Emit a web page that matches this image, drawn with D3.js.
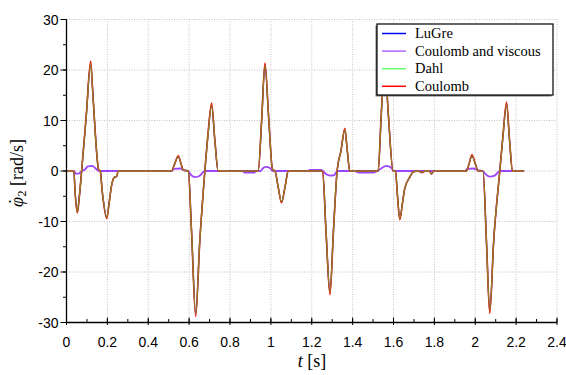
<!DOCTYPE html>
<html>
<head>
<meta charset="utf-8">
<script src="https://cdn.jsdelivr.net/npm/d3@7"></script>
<style>
  body { margin: 0; background: #fff; }
  svg { display: block; }
</style>
</head>
<body>
<div id="chart"></div>
<script>
// time samples of the spiky responses (LuGre / Dahl / Coulomb share them)
const tMain = [0, 0.036, 0.042, 0.053, 0.063, 0.074, 0.097, 0.118, 0.128, 0.14, 0.157, 0.165, 0.175, 0.197, 0.208, 0.22, 0.235, 0.245, 0.253,
  0.514, 0.53, 0.547, 0.56, 0.571, 0.596, 0.612, 0.632, 0.652, 0.677, 0.692, 0.71, 0.726, 0.742,
  0.938, 0.955, 0.971, 0.99, 1.008, 1.02, 1.035, 1.052, 1.07, 1.085,
  1.253, 1.27, 1.289, 1.306, 1.324, 1.343, 1.362, 1.374, 1.386,
  1.525, 1.54, 1.557, 1.575, 1.598, 1.61, 1.618, 1.631, 1.645, 1.655, 1.68, 1.696, 1.72, 1.74, 1.755, 1.775, 1.786, 1.797,
  1.957, 1.97, 1.984, 2.0, 2.014, 2.038, 2.055, 2.071, 2.09, 2.12, 2.136, 2.153, 2.168, 2.182, 2.239];

const luGre = [0, 0, -4, -8.1, -5, 0, 11, 21.3, 16, 8, 0.3, 0, -4, -9.2, -6.5, -3, -1.2, -1.1, 0,
  0, 1.5, 2.9, 1.5, 0.2, 0, -12, -28.4, -14, 0, 7, 13.1, 6, 0,
  0, 10, 21.0, 10, 0.3, 0, -3, -6.1, -3, 0,
  0, -12, -24.1, -12, 0, 4, 8.2, 4, 0,
  0, 11, 21.3, 11, 0, 0, -4, -9.4, -6, -3.5, -1.2, -0.2, 0, -0.3, 0, 0, -0.6, 0,
  0, 1.5, 3.0, 1.5, 0, 0, -14, -27.8, -14, 0, 7, 13.3, 6, 0, 0];

const dahl = luGre.slice();

const coulomb = [0, 0, -4.2, -8.3, -5, 0, 11.2, 21.7, 16, 8, 0.3, 0, -4.2, -9.4, -6.5, -3, -1.2, -1.1, 0,
  0, 1.5, 3.0, 1.5, 0.2, 0, -12.2, -28.8, -14, 0, 7.2, 13.4, 6, 0,
  0, 10.2, 21.4, 10, 0.3, 0, -3, -6.3, -3, 0,
  0, -12.2, -24.5, -12, 0, 4, 8.4, 4, 0,
  0, 11.2, 21.6, 11, 0, 0, -4.2, -9.6, -6, -3.5, -1.2, -0.2, 0, -0.3, 0, 0, -0.6, 0,
  0, 1.5, 3.2, 1.5, 0, 0, -14.2, -28.2, -14, 0, 7.2, 13.6, 6, 0, 0];

// Coulomb and viscous model (small amplitude)
const tCV = [0, 0.036, 0.045, 0.06, 0.075, 0.09, 0.105, 0.125, 0.14, 0.16,
  0.514, 0.525, 0.56, 0.575, 0.595, 0.61, 0.63, 0.65, 0.677,
  0.86, 0.87, 0.92, 0.93, 0.95, 0.96, 0.975, 0.995, 1.01,
  1.18, 1.19, 1.245, 1.255, 1.27, 1.29, 1.31, 1.325,
  1.41, 1.43, 1.5, 1.52, 1.54, 1.565, 1.59, 1.6,
  1.95, 1.96, 1.99, 2.01, 2.035, 2.05, 2.07, 2.095, 2.12, 2.239];
const coulombViscous = [0, 0, -0.5, -0.5, 0, 0.3, 0.9, 1.0, 0.6, 0,
  0, 0.4, 0.5, 0.1, 0, -0.8, -1.2, -1.0, 0,
  0, -0.3, -0.3, 0, 0, 0.5, 0.8, 0.6, 0,
  0, 0.2, 0.2, 0, -0.6, -0.9, -0.8, 0,
  0, -0.3, -0.3, 0, 0.5, 1.0, 0.6, 0,
  0, 0.4, 0.5, 0.2, 0, -0.6, -1.1, -0.9, 0, 0];

const xTicks = [0, 0.2, 0.4, 0.6, 0.8, 1, 1.2, 1.4, 1.6, 1.8, 2, 2.2, 2.4];
const yTicks = [-30, -20, -10, 0, 10, 20, 30];
const legendNames = ['LuGre', 'Coulomb and viscous', 'Dahl', 'Coulomb'];
const legendColors = ['#0000ff', '#b266ff', '#66ff66', '#ff0000'];

const width = 566, height = 375;
const margin = { top: 19.5, right: 9, bottom: 52.5, left: 66.5 };

const svg = d3.select('#chart').append('svg')
  .attr('width', width)
  .attr('height', height);

const x = d3.scaleLinear().domain([0, 2.4]).range([margin.left, width - margin.right]);
const y = d3.scaleLinear().domain([-30, 30]).range([height - margin.bottom, margin.top]);

// dotted grid
const grid = svg.append('g')
  .attr('stroke', '#c4c4c4')
  .attr('stroke-width', 1)
  .attr('stroke-dasharray', '1,1.5');
grid.selectAll('.gx').data(xTicks.slice(1)).join('line')
  .attr('x1', d => x(d)).attr('x2', d => x(d))
  .attr('y1', y(-30)).attr('y2', y(30));
grid.selectAll('.gy').data(yTicks.slice(1)).join('line')
  .attr('x1', x(0)).attr('x2', x(2.4))
  .attr('y1', d => y(d)).attr('y2', d => y(d));

// curves
const line = d3.line()
  .x(d => x(d[0]))
  .y(d => y(d[1]))
  .curve(d3.curveMonotoneX);

const zipped = (ts, vs) => ts.map((t, i) => [t, vs[i]]);

const plot = svg.append('g').attr('fill', 'none').attr('stroke-linejoin', 'round');
plot.append('path').attr('d', line(zipped(tMain, luGre)))
  .attr('stroke', legendColors[0]).attr('stroke-width', 1.3);
plot.append('path').attr('d', line(zipped(tCV, coulombViscous)))
  .attr('stroke', '#9b45ff').attr('stroke-width', 1.8);
plot.append('path').attr('d', line(zipped(tMain, coulomb)))
  .attr('stroke', legendColors[3]).attr('stroke-width', 1.6);
plot.append('path').attr('d', line(zipped(tMain, dahl)))
  .attr('stroke', '#55cc33').attr('stroke-width', 1.4).attr('stroke-opacity', 0.6);

// axes
const xAxis = svg.append('g').attr('transform', `translate(0,${y(-30)})`);
xAxis.append('line')
  .attr('x1', x(0)).attr('x2', x(2.4))
  .attr('stroke', '#000').attr('stroke-width', 1.3);
xAxis.selectAll('.minor').data(d3.range(0, 2.41, 0.1)).join('line')
  .attr('x1', d => x(d)).attr('x2', d => x(d))
  .attr('y1', 0).attr('y2', -3.5)
  .attr('stroke', '#000').attr('stroke-width', 1);
xAxis.selectAll('.major').data(xTicks).join('line')
  .attr('x1', d => x(d)).attr('x2', d => x(d))
  .attr('y1', 2.5).attr('y2', -5)
  .attr('stroke', '#000').attr('stroke-width', 1);
xAxis.selectAll('text').data(xTicks).join('text')
  .attr('x', d => x(d)).attr('y', 24)
  .attr('text-anchor', 'middle')
  .attr('font-family', 'Liberation Sans, Arial, sans-serif')
  .attr('font-size', 14)
  .text(d => d3.format('~g')(d));

const yAxis = svg.append('g').attr('transform', `translate(${x(0)},0)`);
yAxis.append('line')
  .attr('y1', y(-30)).attr('y2', y(30))
  .attr('stroke', '#000').attr('stroke-width', 1.3);
yAxis.selectAll('.minor').data(d3.range(-30, 31, 5)).join('line')
  .attr('y1', d => y(d)).attr('y2', d => y(d))
  .attr('x1', 0).attr('x2', -3.5)
  .attr('stroke', '#000').attr('stroke-width', 1);
yAxis.selectAll('.major').data(yTicks).join('line')
  .attr('y1', d => y(d)).attr('y2', d => y(d))
  .attr('x1', 0).attr('x2', -6)
  .attr('stroke', '#000').attr('stroke-width', 1);
yAxis.selectAll('text').data(yTicks).join('text')
  .attr('x', -8).attr('y', d => y(d) + 5)
  .attr('text-anchor', 'end')
  .attr('font-family', 'Liberation Sans, Arial, sans-serif')
  .attr('font-size', 14)
  .text(d => d);

// axis titles
const serif = 'Liberation Serif, Times New Roman, serif';
const xt = svg.append('text')
  .attr('x', 312).attr('y', 367)
  .attr('text-anchor', 'middle')
  .attr('font-family', serif)
  .attr('font-size', 18);
xt.append('tspan').attr('font-style', 'italic').text('t');
xt.append('tspan').text(' [s]');

const yt = svg.append('text')
  .attr('transform', 'translate(23,173) rotate(-90)')
  .attr('text-anchor', 'middle')
  .attr('font-family', serif)
  .attr('font-size', 18);
yt.append('tspan').attr('font-style', 'italic').text('\u03C6');
yt.append('tspan').attr('dx', -7.5).attr('dy', -1).text('\u02D9');
yt.append('tspan').attr('font-size', 12).attr('dx', 2).attr('dy', 4).text('2');
yt.append('tspan').attr('dy', -3).text(' [rad/s]');

// legend
const lg = svg.append('g').attr('transform', 'translate(377,24)');
lg.append('rect')
  .attr('x', -1.5).attr('y', 1.5).attr('width', 176).attr('height', 71)
  .attr('fill', '#777');
lg.append('rect')
  .attr('width', 176).attr('height', 71)
  .attr('fill', '#fff').attr('stroke', '#000').attr('stroke-width', 1.2);
const items = lg.selectAll('.item').data(legendNames).join('g')
  .attr('transform', (d, i) => `translate(0,${9.5 + i * 17.6})`);
items.append('line')
  .attr('x1', 5).attr('x2', 29)
  .attr('stroke', (d, i) => legendColors[i])
  .attr('stroke-width', 1.5);
items.append('text')
  .attr('x', 38).attr('y', 4.5)
  .attr('font-family', serif)
  .attr('font-size', 14.5)
  .text(d => d);
</script>
</body>
</html>
